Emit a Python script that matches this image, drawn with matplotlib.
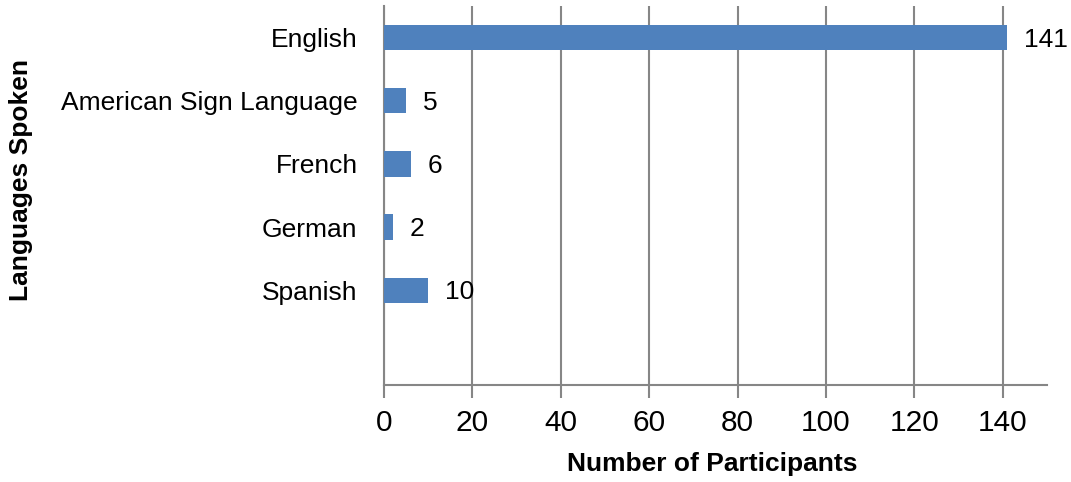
import matplotlib
matplotlib.use("Agg")
import matplotlib.pyplot as plt

categories = ["English", "American Sign Language", "French", "German", "Spanish", ""]
values = [141, 5, 6, 2, 10, None]
xticks = [0, 20, 40, 60, 80, 100, 120, 140]

plt.rcParams['font.family'] = ['Liberation Sans', 'DejaVu Sans']

fig = plt.figure(figsize=(10.71, 4.82), dpi=100)
ax = fig.add_axes([384/1071, 1-385/482, (1047-384)/1071, (385-6)/482])

pos = list(range(len(categories)))
bar_pos = [p for p, v in zip(pos, values) if v is not None]
bar_vals = [v for v in values if v is not None]
ax.barh(bar_pos, bar_vals, height=0.4, color="#4F81BD", zorder=3)
for p, v in zip(bar_pos, bar_vals):
    ax.annotate(str(v), (v, p), xytext=(12, -1.5), textcoords="offset points",
                va="center", ha="left", fontsize=19, color="black")

ax.set_ylim(len(categories)-0.5, -0.5)
ax.set_xlim(0, 150)
ax.set_yticks(pos)
ax.set_yticklabels(categories, fontsize=19)
ax.set_xticks(xticks)
ax.set_xticklabels([str(t) for t in xticks], fontsize=21.5)
ax.tick_params(axis='y', length=0, pad=19)
ax.tick_params(axis='x', length=9, width=1.5, color="#868686", direction='out', pad=8)
ax.grid(axis='x', color="#868686", linewidth=1.5, zorder=0)
for s in ['top', 'right']:
    ax.spines[s].set_visible(False)
for s in ['left', 'bottom']:
    ax.spines[s].set_color("#868686")
    ax.spines[s].set_linewidth(1.5)

fig.text(712/1071, 1-464/482, "Number of Participants", ha="center", va="center",
         fontsize=19, fontweight="bold")
fig.text(21/1071, 1-180/482, "Languages Spoken", ha="center", va="center",
         rotation=90, fontsize=19, fontweight="bold")

fig.savefig("out.png", dpi=100)
